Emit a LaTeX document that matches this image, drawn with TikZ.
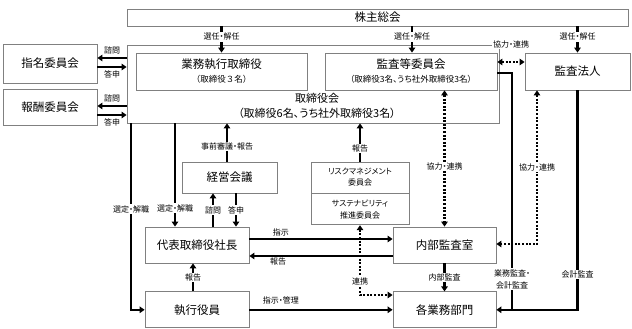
\documentclass[tikz,border=0pt]{standalone}
\usepackage{fontspec}
\setmainfont{Noto Sans CJK JP}[RawFeature={+palt}]
\newfontfamily\fwfont{Noto Sans CJK JP}
\usepackage{tikz}
\usetikzlibrary{positioning, arrows.meta, calc}
\newcommand{\subfnt}{\fontsize{8.5}{10}\selectfont}
\tikzset{
  box/.style   = {draw=black!50, line width=0.8pt, rectangle, align=center,
                  inner sep=1pt, font=\fontsize{11.5}{13}\selectfont},
  ar/.style    = {-{Triangle[length=5pt, width=6.5pt]}, line width=2.2pt},
  ln/.style    = {line width=2.2pt},
  dar/.style   = {{Triangle[length=5pt, width=6.5pt]}-{Triangle[length=5pt, width=6.5pt]},
                  line width=2.2pt, dash pattern=on 2pt off 1.6pt},
  lbl/.style   = {font=\fontsize{8}{9}\selectfont, inner sep=1pt, fill=white},
}

\begin{document}
\begin{tikzpicture}[x=1pt, y=-1pt]
  \useasboundingbox (0,0) rectangle (632,329);
  \node[box, minimum width=501pt, minimum height=17pt] (agm) at (377.5,17.5) {株主総会};
  \node[box, minimum width=372pt, minimum height=78pt] (board) at (313,84) {};
  \node[font=\fontsize{11}{15}\selectfont, align=center] (boardtxt) at (317,106)
    {取締役会\\（取締役6名、うち社外取締役3名）};
  \node[box, minimum width=171pt, minimum height=37pt] (exec) at (221.5,71.5)
    {業務執行取締役\\[1pt]{\subfnt\fwfont （取締役３名）}};
  \node[box, minimum width=172pt, minimum height=37pt] (acc) at (411,71.5)
    {監査等委員会\\[1pt]{\subfnt （取締役3名、うち社外取締役3名）}};
  \node[box, minimum width=105pt, minimum height=37pt] (auditor) at (577.5,71.5) {監査法人};
  \node[box, minimum width=94pt, minimum height=39pt] (nom) at (50,63.5) {指名委員会};
  \node[box, minimum width=94pt, minimum height=36pt] (rem) at (50,107) {報酬委員会};
  \node[box, minimum width=95pt, minimum height=31pt] (mgmt) at (229.5,177.5) {経営会議};
  \node[box, minimum width=98pt, minimum height=31pt, font=\fontsize{8}{11}\selectfont]
    (risk) at (360,177.5) {リスクマネジメント\\委員会};
  \node[box, minimum width=98pt, minimum height=31pt, font=\fontsize{8}{12}\selectfont,
    below=0pt of risk] (sust) {サステナビリティ\\推進委員会};
  \node[box, minimum width=104pt, minimum height=36pt] (pres) at (197,245) {代表取締役社長};
  \node[box, minimum width=104pt, minimum height=36pt, below=28pt of pres] (officer) {執行役員};
  \node[box, minimum width=103pt, minimum height=36pt] (ia) at (444.5,245) {内部監査室};
  \node[box, minimum width=103pt, minimum height=36pt, below=28pt of ia] (depts) {各業務部門};

  % shareholders meeting
  \draw[ar] (exec.north |- agm.south) -- node[lbl, pos=0.4]{選任・解任} (exec.north);
  \draw[ar] (412,0 |- agm.south) -- node[lbl, pos=0.4]{選任・解任} (412,0 |- acc.north);
  \draw[ar] (auditor.north |- agm.south) -- node[lbl, pos=0.4]{選任・解任} (auditor.north);

  % committees
  \draw[ar] (board.west |- 0,58) -- node[lbl, above=2pt]{諮問} (nom.east |- 0,58);
  \draw[ar] (nom.east |- 0,67) -- node[lbl, below=2pt]{答申} (board.west |- 0,67);
  \draw[ar] (board.west |- 0,106) -- node[lbl, above=2pt]{諮問} (rem.east |- 0,106);
  \draw[ar] (rem.east |- 0,115) -- node[lbl, below=2pt]{答申} (board.west |- 0,115);

  % board to execution
  \draw[ar] (131,0 |- board.south) |- node[lbl, pos=0.23]{選定・解職} (officer.west);
  \draw[ar] (175,0 |- board.south) -- node[lbl, pos=0.82]{選定・解職} (175,0 |- pres.north);
  \draw[ar] (227,0 |- mgmt.north) -- node[lbl, pos=0.4]{事前審議・報告} (227,0 |- board.south);
  \draw[ar] (213,0 |- pres.north) -- node[lbl]{諮問} (213,0 |- mgmt.south);
  \draw[ar] (236,0 |- mgmt.south) -- node[lbl]{答申} (236,0 |- pres.north);
  \draw[ar] (risk.north) -- node[lbl, pos=0.35]{報告} (risk.north |- board.south);
  \draw[dar] (sust.south) |- node[lbl, pos=0.4]{連携} (depts.west |- 0,295);

  % cooperation
  \draw[dar] (acc.east |- 0,62) -- node[lbl, yshift=18pt]{協力・連携} (auditor.west |- 0,62);
  \draw[dar] (ia.north |- acc.south) -- node[lbl, pos=0.56]{協力・連携} (ia.north);
  \draw[dar] (537,0 |- auditor.south) |- node[lbl, pos=0.25]{協力・連携} (ia.east |- 0,244);

  % audits
  \coordinate (gk) at (512,73);
  \draw[ar] (acc.east |- gk) -- (gk) |- node[lbl, pos=0.435, align=center,
    font=\fontsize{8}{12}\selectfont]{業務監査・\\会計監査} (depts.east);
  \draw[ln] (auditor.south) |- node[lbl, pos=0.42]{会計監査} (gk |- depts.east);

  % president and departments
  \draw[ar] (pres.east |- 0,239) -- node[lbl, above=1pt, pos=0.22]{指示} (ia.west |- 0,239);
  \draw[ar] (ia.west |- 0,256) -- node[lbl, below, pos=0.8]{報告} (pres.east |- 0,256);
  \draw[ar] (193,0 |- officer.north) -- node[lbl]{報告} (193,0 |- pres.south);
  \draw[ar] (officer.east) -- node[lbl, above=4pt, pos=0.22]{指示・管理} (depts.west);
  \draw[ar] (ia.south) -- node[lbl]{内部監査} (depts.north);
\end{tikzpicture}
\end{document}
